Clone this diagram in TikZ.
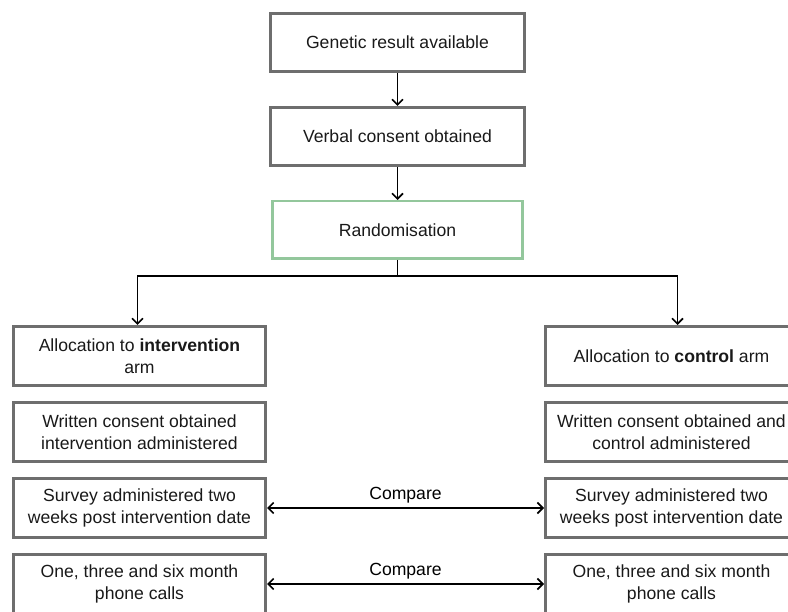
\documentclass[tikz,border=0pt]{standalone}
\usepackage{fontspec}
\setmainfont{Liberation Sans}
\usetikzlibrary{positioning,arrows.meta}

\definecolor{boxgray}{HTML}{6E6E6E}
\definecolor{randgreen}{HTML}{93C79C}

\begin{document}
\begin{tikzpicture}[x=1pt, y=1pt, node distance={33pt}, line width=1.6pt,
    >={Straight Barb[length=5.5pt,width=11pt]},
    main/.style = {draw=boxgray, line width=3pt, minimum width=254pt, minimum height=58pt,
        align=center, text=black!90, font=\fontsize{17.6}{21.6}\selectfont},
    arm/.style = {main, minimum width=252pt, minimum height=59pt}]
    \clip (0,0) rectangle (788,-612);

    \node[main] (1) at (397.5,-42.5) {Genetic result available};
    \node[main] (2) [below=of 1] {Verbal consent obtained};
    \node[main, draw=randgreen, line width=2.5pt, minimum width=250pt, minimum height=57.5pt] (3) [below=of 2] {Randomisation};

    % intervention arm
    \node[arm] (4) at (139.5,-356) {Allocation to \textbf{intervention}\\arm};
    \node[arm] (5) [below=14pt of 4] {Written consent obtained\\intervention administered};
    \node[arm] (6) [below=14pt of 5] {Survey administered two\\weeks post intervention date};
    \node[arm] (7) [below=14pt of 6] {One, three and six month\\phone calls};

    % control arm
    \node[arm] (8) [right=277pt of 4] {Allocation to \textbf{control} arm};
    \node[arm] (9) [right=277pt of 5] {Written consent obtained and\\control administered};
    \node[arm] (10) [right=277pt of 6] {Survey administered two\\weeks post intervention date};
    \node[arm] (11) [right=277pt of 7] {One, three and six month\\phone calls};

    \draw[->] (1) -- (2);
    \draw[->] (2) -- (3);
    \draw (3.south) -- ++(0,-16) coordinate (split);
    \draw[->] (split) -| ([xshift=-2pt]4.north);
    \draw[->] (split) -| ([xshift=6pt]8.north);

    \draw[<->] (6) -- node[above=0.5pt, font=\fontsize{17.6}{21.6}\selectfont] {Compare} (10);
    \draw[<->] (7) -- node[above=0.5pt, font=\fontsize{17.6}{21.6}\selectfont] {Compare} (11);

    \end{tikzpicture}
\end{document}
